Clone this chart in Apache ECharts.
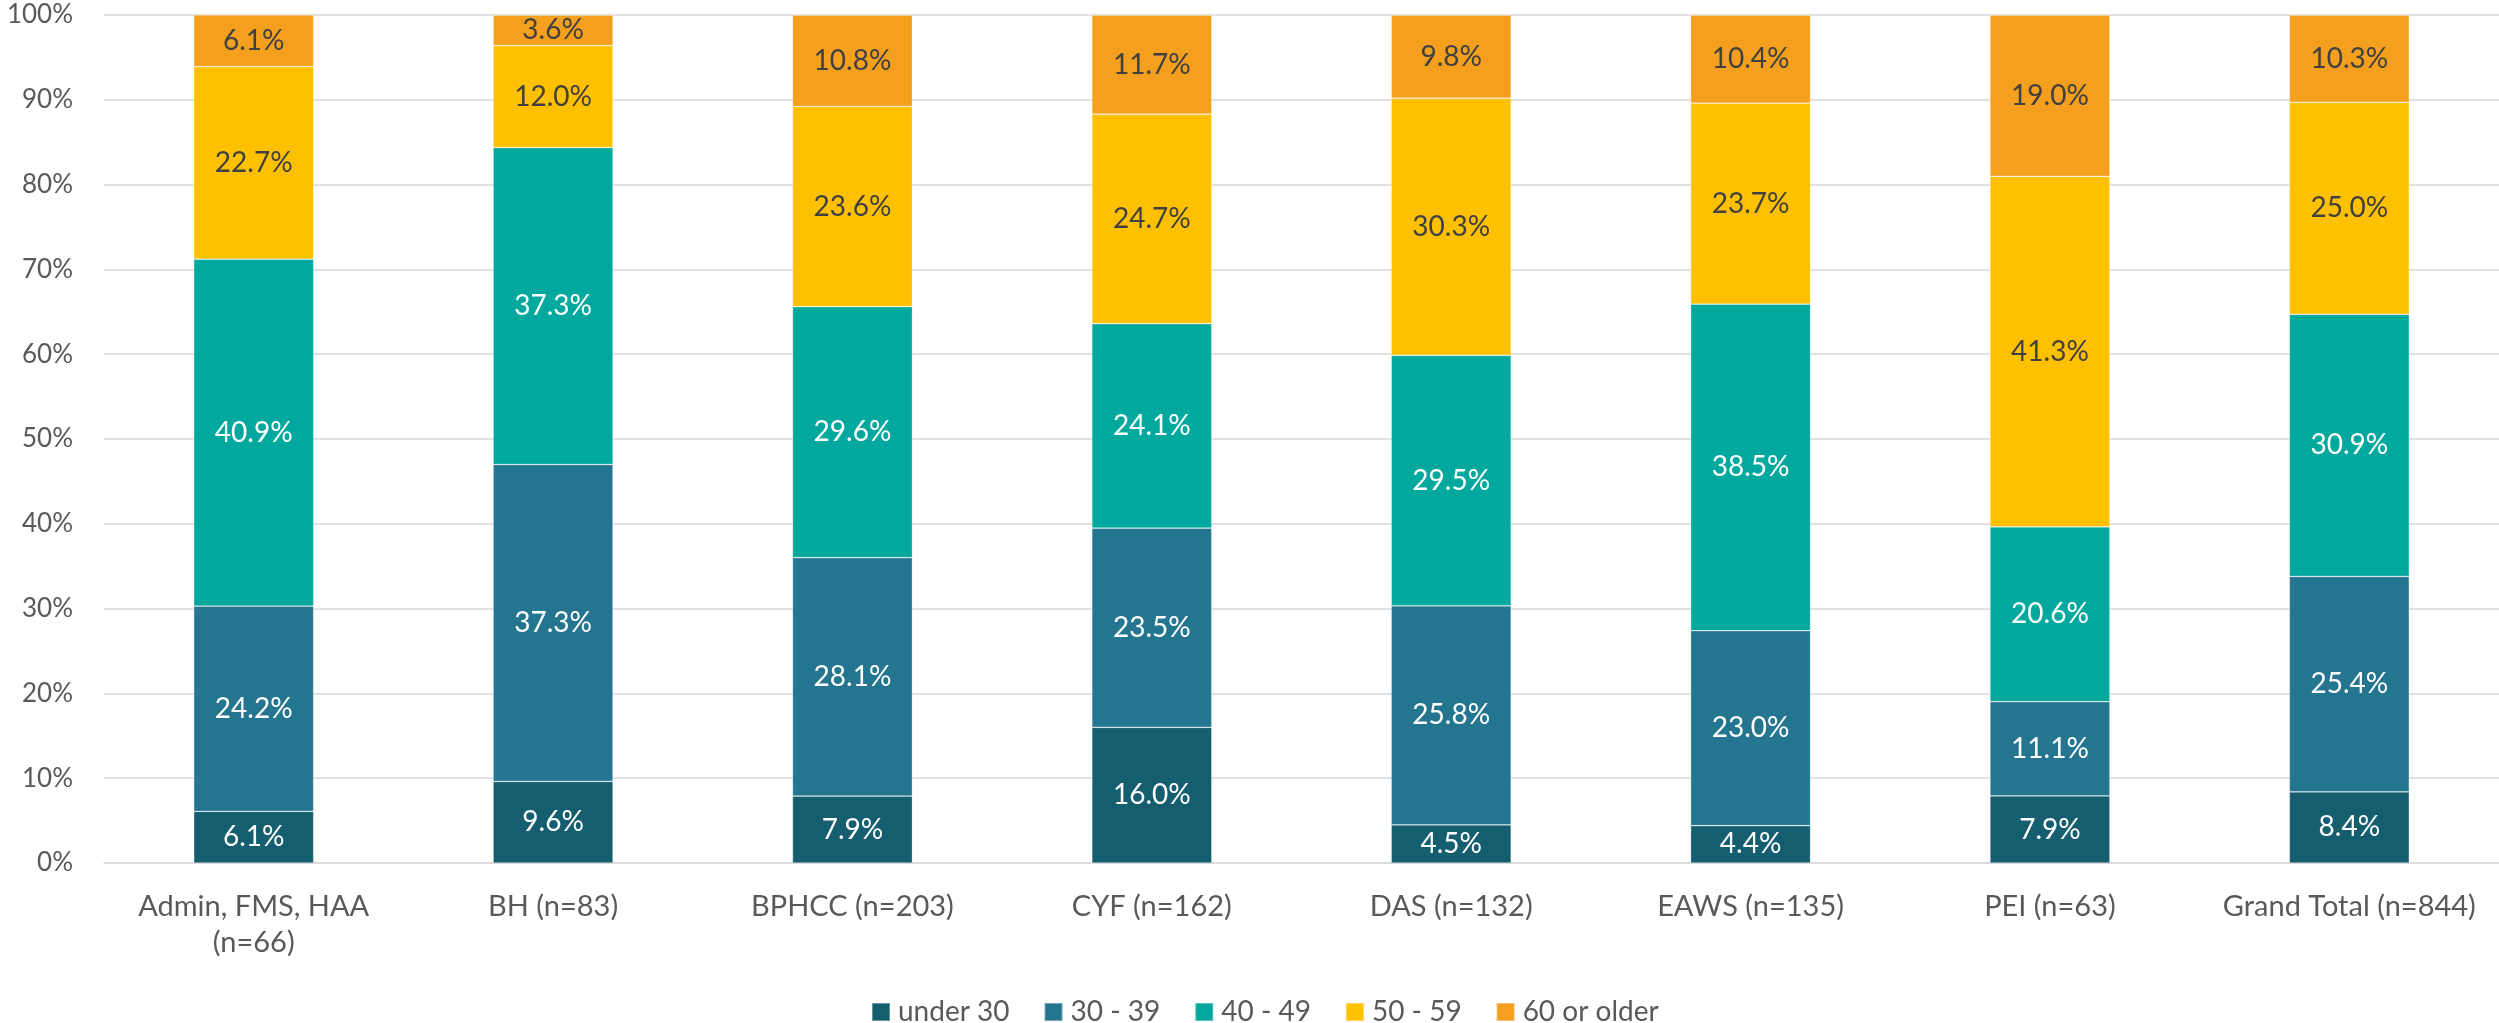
<!DOCTYPE html>
<html>
<head>
<meta charset="utf-8">
<script src="https://cdn.jsdelivr.net/npm/echarts@6/dist/echarts.min.js"></script>
<style>
html,body{margin:0;padding:0;background:#fff;}
#chart{width:2499px;height:1023px;}
</style>
</head>
<body>
<div id="chart"></div>
<script>
const categories = ["Admin, FMS, HAA\n(n=66)", "BH (n=83)", "BPHCC (n=203)", "CYF (n=162)", "DAS (n=132)", "EAWS (n=135)", "PEI (n=63)", "Grand Total (n=844)"];
const seriesNames = ["under 30", "30 - 39", "40 - 49", "50 - 59", "60 or older"];
const under30 = [6.1, 9.6, 7.9, 16.0, 4.5, 4.4, 7.9, 8.4];
const age30to39 = [24.2, 37.3, 28.1, 23.5, 25.8, 23.0, 11.1, 25.4];
const age40to49 = [40.9, 37.3, 29.6, 24.1, 29.5, 38.5, 20.6, 30.9];
const age50to59 = [22.7, 12.0, 23.6, 24.7, 30.3, 23.7, 41.3, 25.0];
const age60plus = [6.1, 3.6, 10.8, 11.7, 9.8, 10.4, 19.0, 10.3];
const yTicks = [0, 10, 20, 30, 40, 50, 60, 70, 80, 90, 100];

const colors = ["#145E70", "#247590", "#00A89D", "#FFC000", "#F4A01E"];
const labelColors = ["#FFFFFF", "#FFFFFF", "#FFFFFF", "#404040", "#404040"];
const raw = [under30, age30to39, age40to49, age50to59, age60plus];
// 100% stacked: normalize each category to its column total
const totals = categories.map((_, i) => raw.reduce((s, arr) => s + arr[i], 0));

const FONT = "Lato, 'Open Sans', sans-serif";

const series = raw.map((arr, k) => ({
  name: seriesNames[k],
  type: 'bar',
  stack: 'total',
  barWidth: 120,
  itemStyle: { color: colors[k], borderColor: 'rgba(255,255,255,0.35)', borderWidth: 0.75 },
  label: {
    show: true,
    position: 'inside',
    color: labelColors[k],
    fontFamily: FONT,
    fontSize: 28,
    formatter: p => arr[p.dataIndex].toFixed(1) + '%'
  },
  emphasis: { disabled: true },
  data: arr.map((v, i) => v / totals[i] * 100)
}));

const chart = echarts.init(document.getElementById('chart'), null, { renderer: 'canvas' });
chart.setOption({
  animation: false,
  backgroundColor: '#ffffff',
  color: colors,
  grid: { left: 104, right: 0, top: 15, bottom: 160, containLabel: false },
  legend: {
    data: seriesNames,
    left: 866,
    top: 993,
    itemWidth: 18,
    itemHeight: 18,
    itemGap: 34,
    icon: 'rect',
    textStyle: { color: '#595959', fontFamily: FONT, fontSize: 28, padding: [0, 0, 0, 3] }
  },
  xAxis: {
    type: 'category',
    data: categories,
    axisLine: { show: true, lineStyle: { color: '#D9D9D9', width: 1.5 } },
    axisTick: { show: false },
    axisLabel: {
      color: '#595959',
      fontFamily: FONT,
      fontSize: 29,
      lineHeight: 36,
      margin: 26,
      interval: 0
    }
  },
  yAxis: {
    type: 'value',
    min: yTicks[0],
    max: yTicks[yTicks.length - 1],
    interval: 10,
    axisLine: { show: false },
    axisTick: { show: false },
    splitLine: { lineStyle: { color: '#D9D9D9', width: 1.5 } },
    axisLabel: {
      color: '#595959',
      fontFamily: FONT,
      fontSize: 26,
      margin: 31,
      formatter: v => v + '%'
    }
  },
  series: series
});
</script>
</body>
</html>
